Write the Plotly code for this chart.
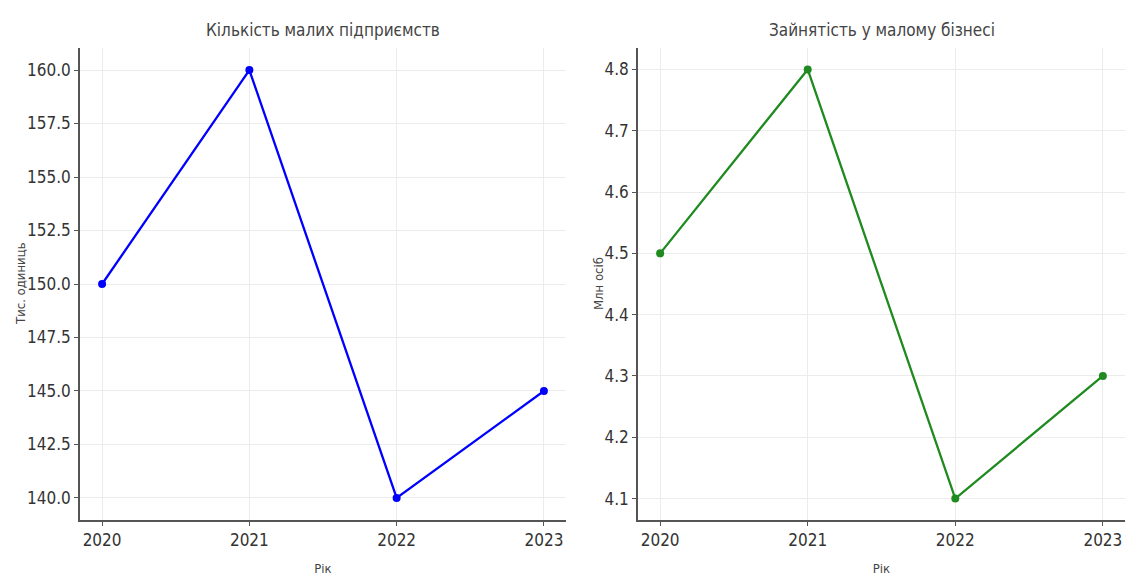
import plotly.graph_objects as go

years = [2020, 2021, 2022, 2023]
enterprises = [150, 160, 140, 145]
employment = [4.5, 4.8, 4.1, 4.3]

left_ticks = [140.0, 142.5, 145.0, 147.5, 150.0, 152.5, 155.0, 157.5, 160.0]
right_ticks = [4.1, 4.2, 4.3, 4.4, 4.5, 4.6, 4.7, 4.8]

# page is drawn with an 8px body margin; size the figure to fit the window
OFF = 8
W, H = 1137 - OFF, 577 - OFF
FONT = "DejaVu Sans Condensed, Liberation Sans Narrow, DejaVu Sans"
TICK_COL = "#333333"
SPINE = "#555555"
GRID = "#ececec"


def px(xp):
    return (xp - OFF) / W


def py(yp):
    return 1 - (yp - OFF) / H


fig = go.Figure()
fig.add_trace(go.Scatter(x=years, y=enterprises, mode="lines+markers",
                         line=dict(color="blue", width=2.3),
                         marker=dict(color="blue", size=8),
                         xaxis="x", yaxis="y", showlegend=False))
fig.add_trace(go.Scatter(x=years, y=employment, mode="lines+markers",
                         line=dict(color="#1f8a1f", width=2.3),
                         marker=dict(color="#1f8a1f", size=8),
                         xaxis="x2", yaxis="y2", showlegend=False))

xd1 = [px(80), px(566)]
xd2 = [px(638), px(1125)]
yd = [py(520), py(48)]


def xax(domain, anchor):
    return dict(domain=domain, anchor=anchor, range=[2019.85, 2023.15],
                tickvals=years, ticktext=[str(y) for y in years],
                showline=True, linecolor=SPINE, linewidth=1.5,
                ticks="outside", ticklen=4, tickcolor=SPINE,
                showgrid=True, gridcolor=GRID, zeroline=False,
                tickfont=dict(family=FONT, size=17, color=TICK_COL),
                title=dict(text="Рік", font=dict(family=FONT, size=13, color="#444"), standoff=15),
                automargin=False)


def yax(domain, anchor, rng, ticks, fmt):
    return dict(domain=domain, anchor=anchor, range=rng,
                tickvals=ticks, ticktext=[fmt.format(t) for t in ticks],
                showline=True, linecolor=SPINE, linewidth=1.5,
                ticks="outside", ticklen=4, tickcolor=SPINE,
                showgrid=True, gridcolor=GRID, zeroline=False,
                tickfont=dict(family=FONT, size=17, color=TICK_COL),
                automargin=False)


ymid = (yd[0] + yd[1]) / 2
fig.update_layout(
    width=W, height=H,
    margin=dict(l=0, r=0, t=0, b=0),
    paper_bgcolor="white", plot_bgcolor="white",
    xaxis=xax(xd1, "y"),
    yaxis=yax(yd, "x", [138.97, 161.03], left_ticks, "{:.1f}"),
    xaxis2=xax(xd2, "y2"),
    yaxis2=yax(yd, "x2", [4.065, 4.835], right_ticks, "{:.1f}"),
    annotations=[
        dict(text="Кількість малих підприємств", x=(xd1[0] + xd1[1]) / 2, y=py(30),
             xref="paper", yref="paper", xanchor="center", yanchor="middle", showarrow=False,
             font=dict(family=FONT, size=17, color="#444")),
        dict(text="Зайнятість у малому бізнесі", x=(xd2[0] + xd2[1]) / 2, y=py(30),
             xref="paper", yref="paper", xanchor="center", yanchor="middle", showarrow=False,
             font=dict(family=FONT, size=17, color="#444")),
        dict(text="Тис. одиниць", x=px(20), y=ymid, textangle=-90,
             xref="paper", yref="paper", xanchor="center", yanchor="middle", showarrow=False,
             font=dict(family=FONT, size=13, color="#444")),
        dict(text="Млн осіб", x=px(598), y=ymid, textangle=-90,
             xref="paper", yref="paper", xanchor="center", yanchor="middle", showarrow=False,
             font=dict(family=FONT, size=13, color="#444")),
    ],
)

fig.write_html("out.html")
